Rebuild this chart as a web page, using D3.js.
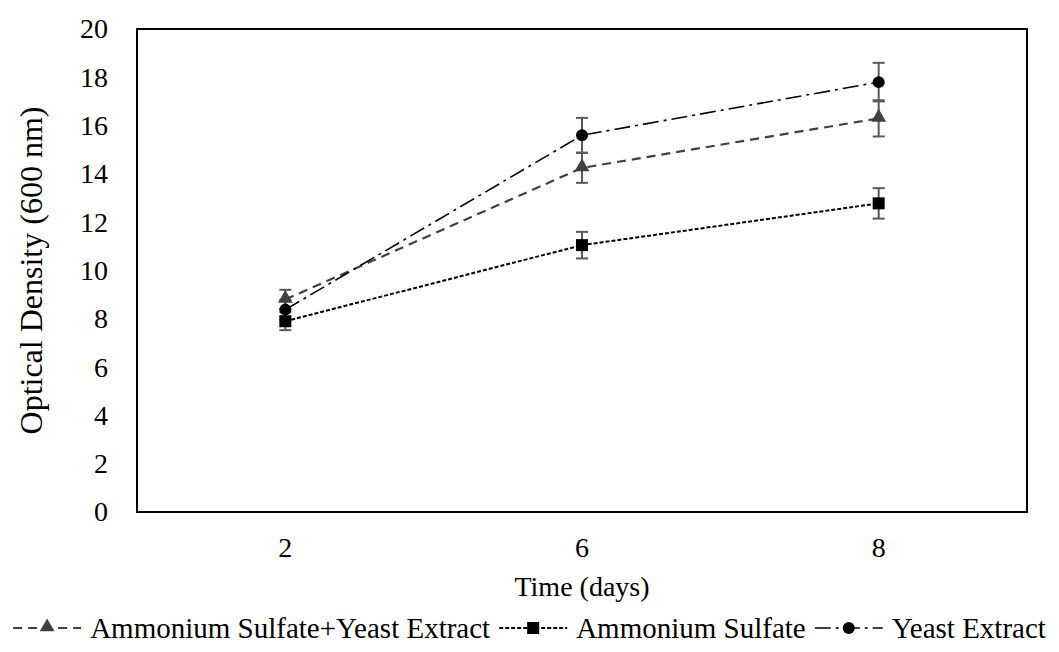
<!DOCTYPE html>
<html>
<head>
<meta charset="utf-8">
<script src="https://cdn.jsdelivr.net/npm/d3@7"></script>
<style>
  body { margin: 0; background: #fff; }
  text { font-family: "Liberation Serif", "Times New Roman", serif; }
</style>
</head>
<body>
<div id="chart"></div>
<script>
// data
const days = ['2', '6', '8'];
const seriesNames = ['Ammonium Sulfate+Yeast Extract', 'Ammonium Sulfate', 'Yeast Extract'];
const asyeValues = [8.8, 14.25, 16.3];
const asyeErrors = [0.4, 0.62, 0.75];
const asValues = [7.9, 11.05, 12.78];
const asErrors = [0.37, 0.55, 0.63];
const yeValues = [8.38, 15.6, 17.8];
const yeErrors = [0.4, 0.72, 0.8];
const yTicks = [0, 2, 4, 6, 8, 10, 12, 14, 16, 18, 20];

const series = [
    {name: seriesNames[0], values: asyeValues, errors: asyeErrors, color: '#404040', dash: '9,6', width: 2.2, marker: 'triangle'},
    {name: seriesNames[1], values: asValues, errors: asErrors, color: '#000', dash: '4,2', width: 2, marker: 'square'},
    {name: seriesNames[2], values: yeValues, errors: yeErrors, color: '#000', dash: '16,5,3,5', width: 1.6, marker: 'circle'}
];

const W = 1059, H = 652;
const margin = {top: 29, right: 32, bottom: 140, left: 137};
const width = W - margin.left - margin.right;
const height = H - margin.top - margin.bottom;

const svg = d3.select('#chart').append('svg')
    .attr('width', W)
    .attr('height', H);

const g = svg.append('g')
    .attr('transform', 'translate(' + margin.left + ',' + margin.top + ')');

const xScale = d3.scaleBand().domain(days).range([0, width]);
const yScale = d3.scaleLinear().domain([0, 20]).range([height, 0]);
const cx = d => xScale(d) + xScale.bandwidth() / 2;

// y axis labels
const yAxis = g.append('g')
    .call(d3.axisLeft(yScale).tickValues(yTicks).tickSize(0).tickPadding(29));
yAxis.select('.domain').remove();
yAxis.selectAll('text')
    .attr('font-family', '"Liberation Serif", serif')
    .attr('font-size', 28)
    .attr('fill', '#000');

// x axis labels
const xAxis = g.append('g')
    .attr('transform', 'translate(0,' + height + ')')
    .call(d3.axisBottom(xScale).tickSize(0).tickPadding(25));
xAxis.select('.domain').remove();
xAxis.selectAll('text')
    .attr('font-family', '"Liberation Serif", serif')
    .attr('font-size', 28)
    .attr('fill', '#000');

// plot frame
g.append('rect')
    .attr('x', 0).attr('y', 0)
    .attr('width', width).attr('height', height)
    .attr('fill', 'none')
    .attr('stroke', '#000')
    .attr('stroke-width', 2);

// axis titles
g.append('text')
    .attr('x', width / 2)
    .attr('y', height + 84)
    .attr('text-anchor', 'middle')
    .attr('font-size', 28)
    .text('Time (days)');

g.append('text')
    .attr('transform', 'translate(' + (-95) + ',' + (height / 2) + ') rotate(-90)')
    .attr('text-anchor', 'middle')
    .attr('font-size', 32)
    .text('Optical Density (600 nm)');

function drawMarker(sel, type, color, x, y) {
    if (type === 'circle') {
        sel.append('circle').attr('cx', x).attr('cy', y).attr('r', 6).attr('fill', color);
    } else if (type === 'square') {
        sel.append('rect').attr('x', x - 6).attr('y', y - 6).attr('width', 12).attr('height', 12).attr('fill', color);
    } else {
        sel.append('path')
            .attr('d', d3.symbol().type(d3.symbolTriangle).size(95)())
            .attr('transform', 'translate(' + x + ',' + (y - 1) + ')')
            .attr('fill', color);
    }
}

// lines
const line = d3.line()
    .x((d, i) => cx(days[i]))
    .y(d => yScale(d));

series.forEach(s => {
    g.append('path')
        .datum(s.values)
        .attr('d', line)
        .attr('fill', 'none')
        .attr('stroke', s.color)
        .attr('stroke-width', s.width)
        .attr('stroke-dasharray', s.dash);
});

// error bars
series.forEach(s => {
    const eb = g.append('g').attr('stroke', '#595959').attr('stroke-width', 2);
    s.values.forEach((v, i) => {
        const x = cx(days[i]);
        const y0 = yScale(v - s.errors[i]);
        const y1 = yScale(v + s.errors[i]);
        eb.append('line').attr('x1', x).attr('x2', x).attr('y1', y0).attr('y2', y1);
        eb.append('line').attr('x1', x - 6).attr('x2', x + 6).attr('y1', y0).attr('y2', y0);
        eb.append('line').attr('x1', x - 6).attr('x2', x + 6).attr('y1', y1).attr('y2', y1);
    });
});

// markers
series.forEach(s => {
    const mg = g.append('g');
    s.values.forEach((v, i) => drawMarker(mg, s.marker, s.color, cx(days[i]), yScale(v)));
});

// legend
const legend = svg.append('g').attr('transform', 'translate(0,628)');
let lx = 0;
const items = [];
series.forEach(s => {
    const item = legend.append('g');
    item.append('line')
        .attr('x1', 0).attr('x2', 68)
        .attr('y1', 0).attr('y2', 0)
        .attr('stroke', s.color)
        .attr('stroke-width', s.width)
        .attr('stroke-dasharray', s.dash);
    drawMarker(item, s.marker, s.color, 34, 0);
    const t = item.append('text')
        .attr('x', 77)
        .attr('y', 10)
        .attr('font-size', 29)
        .text(s.name);
    item.attr('transform', 'translate(' + lx + ',0)');
    lx += 77 + t.node().getComputedTextLength() + 9;
    items.push(item);
});
const total = lx - 9;
const startX = (W - total) / 2;
items.forEach(item => {
    const tr = item.attr('transform').match(/translate\(([-\d.]+)/)[1];
    item.attr('transform', 'translate(' + (startX + +tr) + ',0)');
});
</script>
</body>
</html>
